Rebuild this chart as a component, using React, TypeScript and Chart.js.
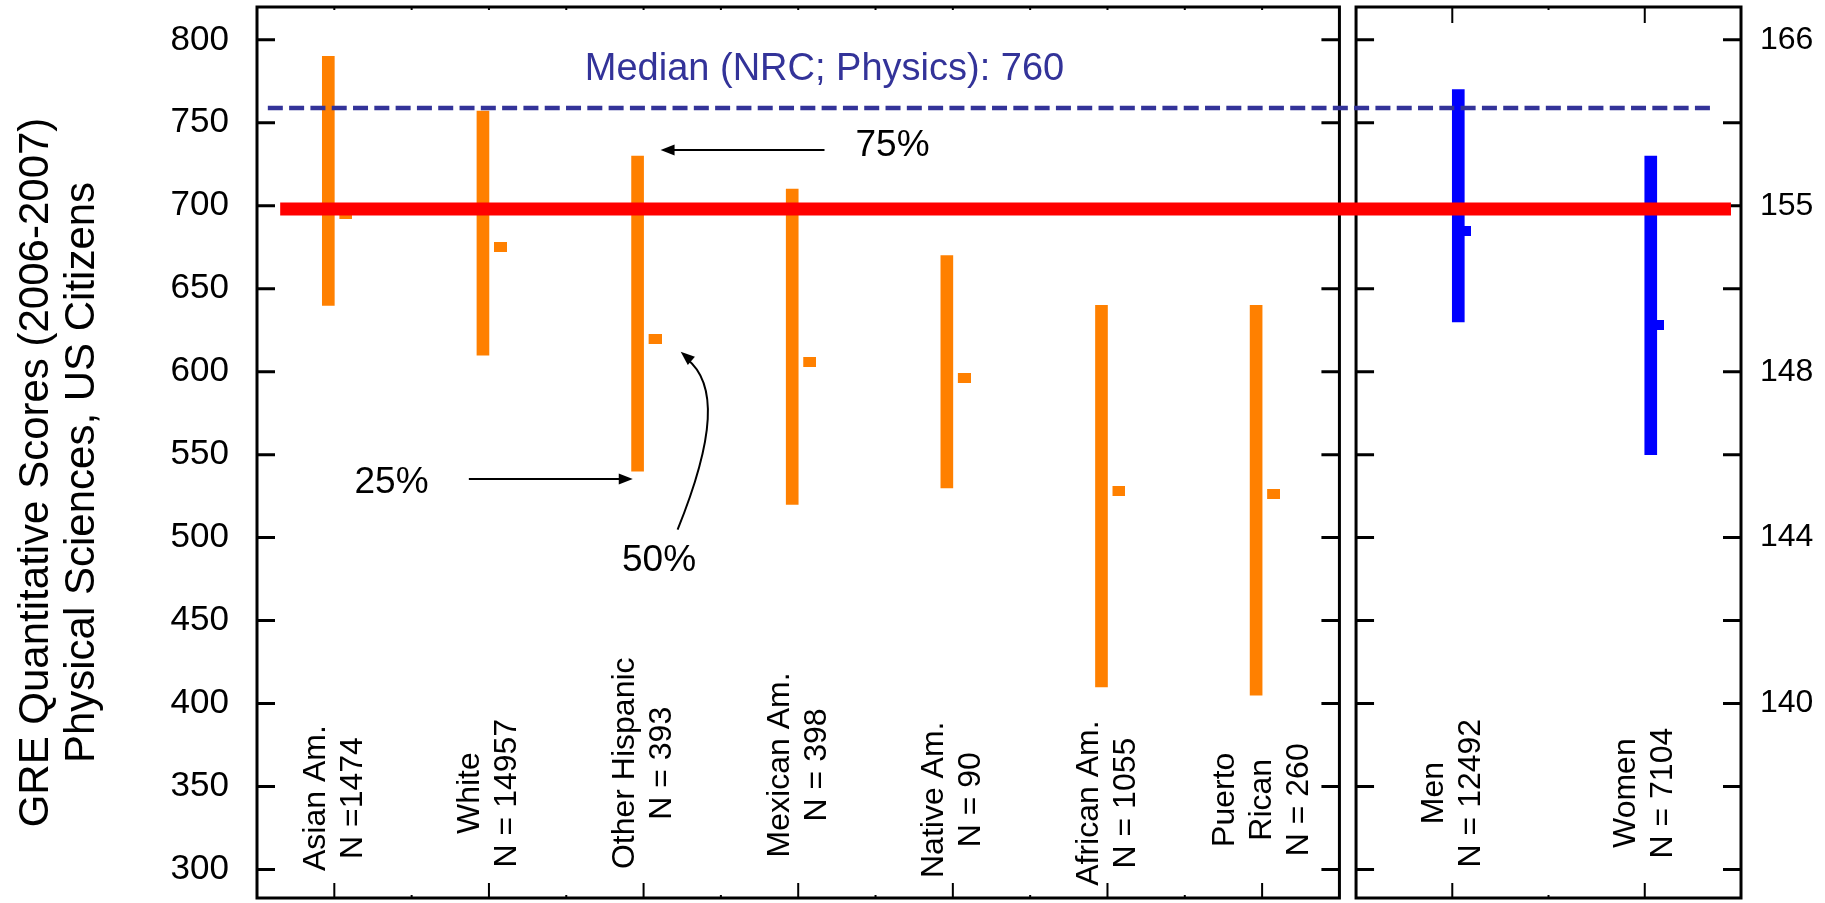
import React, { useEffect, useRef } from 'react';
import { Chart, registerables } from 'chart.js';

Chart.register(...registerables);

// ---------------- data ----------------
const groupLabels: string[][] = [
  ['Asian Am.', 'N =1474'],
  ['White', 'N = 14957'],
  ['Other Hispanic', 'N = 393'],
  ['Mexican Am.', 'N = 398'],
  ['Native Am.', 'N = 90'],
  ['African Am.', 'N = 1055'],
  ['Puerto', 'Rican', 'N = 260'],
];
const groupQ25 = [640, 610, 540, 520, 530, 410, 405];
const groupQ50 = [695, 675, 620, 606, 596, 528, 526];
const groupQ75 = [790, 757, 730, 710, 670, 640, 640];

const genderLabels: string[][] = [
  ['Men', 'N = 12492'],
  ['Women', 'N = 7104'],
];
const genderQ25 = [630, 550];
const genderQ50 = [685, 628];
const genderQ75 = [770, 730];

const yTickValues = [300, 350, 400, 450, 500, 550, 600, 650, 700, 750, 800];
const rightTickValues = [800, 700, 600, 500, 400];
const rightTickLabels = ['166', '155', '148', '144', '140'];

const cutoffScore = 698; // red reference line
const nrcMedianScore = 759; // dashed reference line

const yTitleLines = ['GRE Quantitative Scores (2006-2007)', 'Physical Sciences, US Citizens'];

// annotations (x in left-panel category units, y in score units)
const noteTexts = ['Median (NRC; Physics): 760', '75%', '25%', '50%'];
const noteX = [2.62, 4.61, 1.37, 3.1];
const noteY = [782, 736, 533, 486];
const noteAlign: CanvasTextAlign[] = ['left', 'center', 'center', 'center'];
const noteSize = [38, 37, 37, 37];

// label vertical anchors (score units)
const groupLabelAnchor = [343, 346, 364, 363, 342, 340, 342];
const genderLabelAnchor = [346, 346];

// ---------------- layout constants ----------------
const W = 1825;
const H = 903;
const FONT = '"Liberation Sans", Arial, Helvetica, sans-serif';
const Y_MIN = 282.8;
const Y_MAX = 819.8;
const LEFT_SHARE = 0.7294;
const RIGHT_START = 0.7406;
const X_L_MAX = 0.5 + 7 / LEFT_SHARE;
const X_R_MIN = 2.5 - 2 / (1 - RIGHT_START);
const rightToLeft = (xr: number) =>
  0.5 + ((xr - X_R_MIN) / (2.5 - X_R_MIN)) * (X_L_MAX - 0.5);

const ORANGE = '#FF8000';
const BLUE = '#0000FF';
const NAVY = '#333399';

function makeMedianMark(color: string, barHalf: number, len: number, h: number) {
  const c = document.createElement('canvas');
  const w = 2 * (barHalf + len);
  c.width = w;
  c.height = h;
  const g = c.getContext('2d')!;
  g.fillStyle = color;
  g.fillRect(w / 2 + barHalf - 1, 0, len + 1, h);
  return c;
}

function arrowHead(ctx: CanvasRenderingContext2D, x: number, y: number, angle: number) {
  ctx.save();
  ctx.translate(x, y);
  ctx.rotate(angle);
  ctx.beginPath();
  ctx.moveTo(0, 0);
  ctx.lineTo(-14, -5.5);
  ctx.lineTo(-14, 5.5);
  ctx.closePath();
  ctx.fill();
  ctx.restore();
}

const decorPlugin = {
  id: 'decor',
  beforeDatasetsDraw(chart: any) {
    const { ctx, chartArea } = chart;
    const { top, bottom, left, right } = chartArea;
    const xL = chart.scales.xL;
    const xR = chart.scales.xR;
    const y = chart.scales.y;
    const lEnd = xL.getPixelForValue(7.5);
    const rStart = xR.getPixelForValue(0.5);
    ctx.save();
    ctx.strokeStyle = '#000';
    ctx.lineWidth = 3;
    ctx.strokeRect(left, top, lEnd - left, bottom - top);
    ctx.strokeRect(rStart, top, right - rStart, bottom - top);
    ctx.beginPath();
    yTickValues.forEach((v) => {
      const py = y.getPixelForValue(v);
      ctx.moveTo(left, py); ctx.lineTo(left + 18, py);
      ctx.moveTo(lEnd, py); ctx.lineTo(lEnd - 18, py);
      ctx.moveTo(rStart, py); ctx.lineTo(rStart + 18, py);
      ctx.moveTo(right, py); ctx.lineTo(right - 18, py);
    });
    ctx.stroke();
    ctx.lineWidth = 2;
    ctx.beginPath();
    groupLabels.forEach((_, i) => {
      const px = xL.getPixelForValue(i + 1);
      ctx.moveTo(px, bottom); ctx.lineTo(px, bottom - 15);
      ctx.moveTo(px, top); ctx.lineTo(px, top + 3);
      if (i < groupLabels.length - 1) {
        const hx = xL.getPixelForValue(i + 1.5);
        ctx.moveTo(hx, bottom); ctx.lineTo(hx, bottom - 3);
        ctx.moveTo(hx, top); ctx.lineTo(hx, top + 3);
      }
    });
    genderLabels.forEach((_, i) => {
      const px = xR.getPixelForValue(i + 1);
      ctx.moveTo(px, bottom); ctx.lineTo(px, bottom - 15);
      ctx.moveTo(px, top); ctx.lineTo(px, top + 16);
    });
    const hx = xR.getPixelForValue(1.5);
    ctx.moveTo(hx, bottom); ctx.lineTo(hx, bottom - 3);
    ctx.moveTo(hx, top); ctx.lineTo(hx, top + 3);
    ctx.stroke();

    // category labels
    ctx.fillStyle = '#000';
    ctx.font = `32px ${FONT}`;
    ctx.textAlign = 'center';
    ctx.textBaseline = 'middle';
    const drawLabel = (lines: string[], cx: number, cy: number) => {
      const n = lines.length;
      lines.forEach((ln, k) => {
        ctx.save();
        ctx.translate(cx + (k - (n - 1) / 2) * 37, cy);
        ctx.rotate(-Math.PI / 2);
        ctx.fillText(ln, 0, 0);
        ctx.restore();
      });
    };
    groupLabels.forEach((lines, i) =>
      drawLabel(lines, xL.getPixelForValue(i + 1), y.getPixelForValue(groupLabelAnchor[i])));
    genderLabels.forEach((lines, i) =>
      drawLabel(lines, xR.getPixelForValue(i + 1), y.getPixelForValue(genderLabelAnchor[i])));

    // y-axis title
    ctx.font = `42px ${FONT}`;
    const cy = (top + bottom) / 2 + 20;
    yTitleLines.forEach((ln, k) => {
      ctx.save();
      ctx.translate(36 + k * 46, cy);
      ctx.rotate(-Math.PI / 2);
      ctx.fillText(ln, 0, 0);
      ctx.restore();
    });
    ctx.restore();
  },
  afterDatasetsDraw(chart: any) {
    const { ctx } = chart;
    const xL = chart.scales.xL;
    const y = chart.scales.y;
    const P = (xv: number, yv: number) => [xL.getPixelForValue(xv), y.getPixelForValue(yv)];
    ctx.save();
    ctx.textBaseline = 'middle';
    noteTexts.forEach((t, i) => {
      ctx.font = `${noteSize[i]}px ${FONT}`;
      ctx.fillStyle = i === 0 ? NAVY : '#000';
      ctx.textAlign = noteAlign[i];
      const [px, py] = P(noteX[i], noteY[i]);
      ctx.fillText(t, px, py);
    });
    ctx.strokeStyle = '#000';
    ctx.fillStyle = '#000';
    ctx.lineWidth = 2;
    const straight = [
      [4.17, 733.6, 3.11, 733.6],
      [1.87, 535.4, 2.93, 535.4],
    ];
    straight.forEach(([x0, y0, x1, y1]) => {
      const [a, b] = P(x0, y0);
      const [c, d] = P(x1, y1);
      const ang = Math.atan2(d - b, c - a);
      ctx.beginPath();
      ctx.moveTo(a, b);
      ctx.lineTo(c - Math.cos(ang) * 12, d - Math.sin(ang) * 12);
      ctx.stroke();
      arrowHead(ctx, c, d, ang);
    });
    const curve = [[3.22, 504.8], [3.46, 560], [3.48, 593], [3.24, 612]].map(([a, b]) => P(a, b));
    ctx.beginPath();
    ctx.moveTo(curve[0][0], curve[0][1]);
    ctx.bezierCurveTo(curve[1][0], curve[1][1], curve[2][0], curve[2][1], curve[3][0] + 6, curve[3][1] + 7);
    ctx.stroke();
    const ang = Math.atan2(curve[3][1] - curve[2][1], curve[3][0] - curve[2][0]);
    arrowHead(ctx, curve[3][0], curve[3][1], ang);
    ctx.restore();
  },
};

export default function App() {
  const ref = useRef<HTMLCanvasElement | null>(null);
  useEffect(() => {
    if (!ref.current) return;
    const orangeMark = makeMedianMark(ORANGE, 6, 12, 10);
    const blueMark = makeMedianMark(BLUE, 6, 13, 10);
    const chart = new Chart(ref.current, {
      type: 'bar',
      data: {
        datasets: [
          {
            type: 'line',
            data: [
              { x: 0.57, y: nrcMedianScore },
              { x: rightToLeft(2.355), y: nrcMedianScore },
            ],
            xAxisID: 'xL',
            yAxisID: 'y',
            borderColor: NAVY,
            borderWidth: 4.5,
            borderDash: [15, 6.3],
            borderCapStyle: 'butt',
            pointRadius: 0,
            fill: false,
            order: 0,
          } as any,
          {
            type: 'line',
            data: [
              { x: 0.65, y: cutoffScore },
              { x: rightToLeft(2.448), y: cutoffScore },
            ],
            xAxisID: 'xL',
            yAxisID: 'y',
            borderColor: '#FF0000',
            borderWidth: 13,
            borderCapStyle: 'butt',
            pointRadius: 0,
            fill: false,
            order: 1,
          } as any,
          {
            type: 'scatter',
            data: groupQ50.map((v, i) => ({ x: i + 1, y: v })),
            xAxisID: 'xL',
            yAxisID: 'y',
            pointStyle: orangeMark,
            pointRadius: 3,
            order: 2,
          } as any,
          {
            type: 'scatter',
            data: genderQ50.map((v, i) => ({ x: i + 1, y: v })),
            xAxisID: 'xR',
            yAxisID: 'y',
            pointStyle: blueMark,
            pointRadius: 3,
            order: 2,
          } as any,
          {
            type: 'bar',
            data: groupQ25.map((v, i) => ({ x: i + 1, y: [v, groupQ75[i]] })),
            xAxisID: 'xL',
            yAxisID: 'y',
            backgroundColor: ORANGE,
            barThickness: 12,
            borderWidth: 0,
            order: 3,
          } as any,
          {
            type: 'bar',
            data: genderQ25.map((v, i) => ({ x: i + 1, y: [v, genderQ75[i]] })),
            xAxisID: 'xR',
            yAxisID: 'y',
            backgroundColor: BLUE,
            barThickness: 12,
            borderWidth: 0,
            order: 3,
          } as any,
        ],
      },
      options: {
        responsive: false,
        animation: false,
        devicePixelRatio: 1,
        events: [],
        layout: { padding: { top: 7, bottom: 1, left: 0, right: 0 } },
        plugins: {
          legend: { display: false },
          tooltip: { enabled: false },
        },
        scales: {
          xL: { type: 'linear', display: false, offset: false, min: 0.5, max: X_L_MAX },
          xR: { type: 'linear', display: false, offset: false, min: X_R_MIN, max: 2.5 },
          y: {
            type: 'linear',
            position: 'left',
            min: Y_MIN,
            max: Y_MAX,
            grid: { display: false },
            border: { display: false },
            ticks: { color: '#000', padding: 20, font: { family: FONT, size: 35 } },
            afterBuildTicks: (s: any) => {
              s.ticks = yTickValues.map((v) => ({ value: v }));
            },
            afterFit: (s: any) => {
              s.width = 257;
              s.paddingTop = 0;
              s.paddingBottom = 0;
            },
          },
          y2: {
            type: 'linear',
            position: 'right',
            min: Y_MIN,
            max: Y_MAX,
            grid: { display: false },
            border: { display: false },
            ticks: {
              color: '#000',
              padding: 11,
              font: { family: FONT, size: 32 },
              callback: (v: any) => {
                const k = rightTickValues.indexOf(Number(v));
                return k >= 0 ? rightTickLabels[k] : '';
              },
            },
            afterBuildTicks: (s: any) => {
              s.ticks = rightTickValues.map((v) => ({ value: v }));
            },
            afterFit: (s: any) => {
              s.width = W - 1741;
              s.paddingTop = 0;
              s.paddingBottom = 0;
            },
          },
        } as any,
      },
      plugins: [decorPlugin],
    });
    return () => chart.destroy();
  }, []);
  return (
    <div style={{ position: 'fixed', left: 0, top: 0, width: W, height: H, background: '#fff' }}>
      <canvas ref={ref} width={W} height={H} style={{ display: 'block', width: W + 'px', height: H + 'px' }} />
    </div>
  );
}
